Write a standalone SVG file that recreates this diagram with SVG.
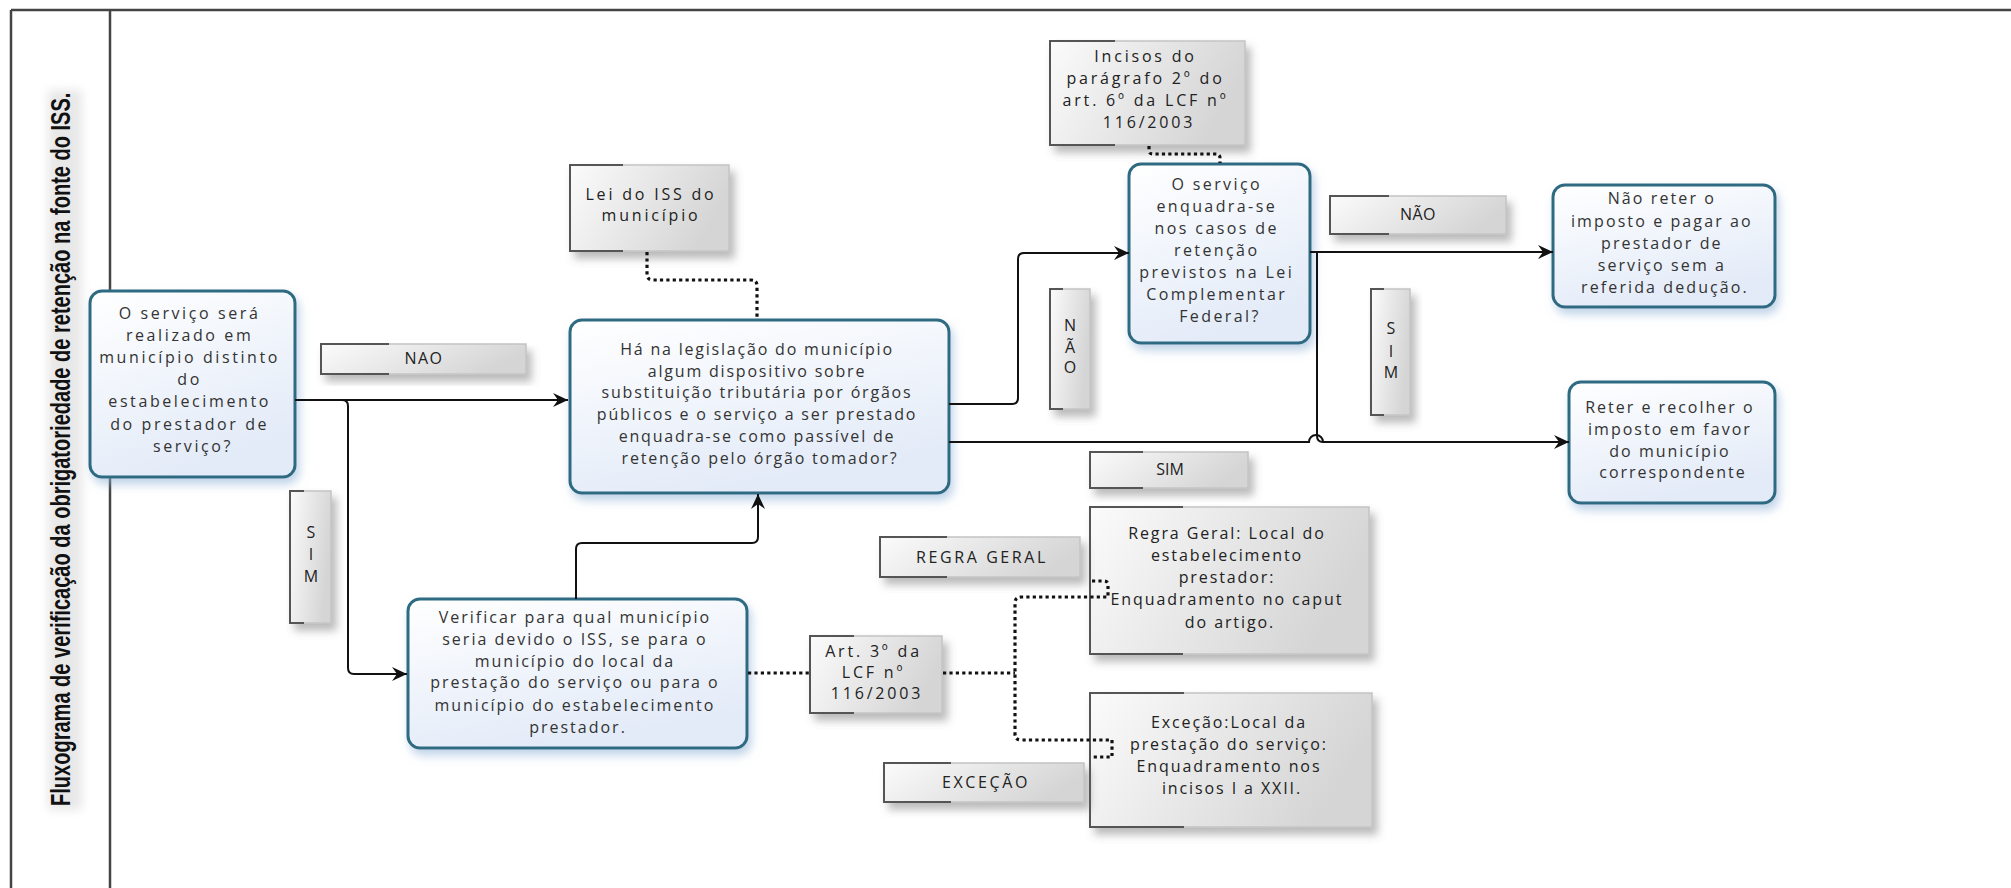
<svg xmlns="http://www.w3.org/2000/svg" width="2011" height="888" viewBox="0 0 2011 888">
<defs>
<linearGradient id="gb" x1="0" y1="0" x2="0.4" y2="1">
<stop offset="0" stop-color="#ffffff"/><stop offset="1" stop-color="#e3ebf8"/>
</linearGradient>
<linearGradient id="gg" x1="0" y1="0" x2="1" y2="0.3">
<stop offset="0" stop-color="#fbfbfb"/><stop offset="1" stop-color="#d5d5d5"/>
</linearGradient>
<filter id="sb" x="-20%" y="-20%" width="140%" height="150%">
<feGaussianBlur in="SourceAlpha" stdDeviation="5"/>
<feOffset dx="3" dy="6" result="b"/>
<feFlood flood-color="#8db0d6" flood-opacity="0.55"/>
<feComposite in2="b" operator="in"/>
<feMerge><feMergeNode/><feMergeNode in="SourceGraphic"/></feMerge>
</filter>
<filter id="sg" x="-20%" y="-20%" width="150%" height="160%">
<feGaussianBlur in="SourceAlpha" stdDeviation="4"/>
<feOffset dx="5" dy="7" result="b"/>
<feFlood flood-color="#666" flood-opacity="0.45"/>
<feComposite in2="b" operator="in"/>
<feMerge><feMergeNode/><feMergeNode in="SourceGraphic"/></feMerge>
</filter>
<filter id="tb" x="-50%" y="-5%" width="200%" height="110%">
<feGaussianBlur stdDeviation="5"/>
</filter>
<marker id="arr" markerUnits="userSpaceOnUse" markerWidth="16" markerHeight="14" refX="15" refY="7" orient="auto" viewBox="0 0 16 14">
<path d="M0,0 L15,7 L0,14 L5,7 Z" fill="#111"/>
</marker>
</defs>
<style>
.frame{stroke:#444;stroke-width:2.5;fill:none}
.node{fill:url(#gb);stroke:#2d6b82;stroke-width:3;filter:url(#sb)}
.box{fill:url(#gg);stroke:#c4c4c4;stroke-width:1.5;filter:url(#sg)}
.edge{stroke:#555;stroke-width:2;fill:none}
.t{font-family:"Open Sans","Noto Sans","Liberation Sans",sans-serif;font-size:16px;fill:#333;text-anchor:middle;letter-spacing:2px}
.g{font-family:"Open Sans","Noto Sans","Liberation Sans",sans-serif;font-size:16px;fill:#222;text-anchor:middle;letter-spacing:2.6px}
.lb{font-family:"Open Sans","Noto Sans","Liberation Sans",sans-serif;font-size:16px;fill:#222;text-anchor:middle;letter-spacing:3.4px}
.c{stroke:#111;stroke-width:2;fill:none}
.d{stroke:#111;stroke-width:3.2;fill:none;stroke-dasharray:3.2 3.2}
.title{font-family:"Liberation Sans",Arial,sans-serif;font-weight:bold;font-size:27px;fill:#111}
</style>
<rect width="2011" height="888" fill="#ffffff"/>
<g id="frame">
<rect x="48" y="90" width="34" height="720" fill="#e8e8e8" filter="url(#tb)"/>
<line class="frame" x1="11" y1="10" x2="2011" y2="10"/>
<line class="frame" x1="11" y1="10" x2="11" y2="888"/>
<line class="frame" x1="110" y1="10" x2="110" y2="888"/>
<text class="title" transform="translate(70,806) rotate(-90) scale(0.742,1)">Fluxograma de verificação da obrigatoriedade de retenção na fonte do ISS.</text>
</g>
<g id="n1">
<rect class="node" x="90" y="291" width="205" height="186" rx="12"/>
<text class="t" style="letter-spacing:2.6px">
<tspan x="193" y="319">O serviço será</tspan>
<tspan x="193" y="341">realizado  em</tspan>
<tspan x="193" y="363">município distinto</tspan>
<tspan x="193" y="385">do</tspan>
<tspan x="193" y="407">estabelecimento</tspan>
<tspan x="193" y="430">do prestador de</tspan>
<tspan x="193" y="452">serviço?</tspan>
</text>
</g>
<g id="n2">
<rect class="node" x="570" y="320" width="379" height="173" rx="12"/>
<text class="t" style="letter-spacing:1.8px">
<tspan x="760" y="355">Há na legislação do município</tspan>
<tspan x="760" y="377">algum dispositivo sobre</tspan>
<tspan x="760" y="398">substituição tributária por órgãos</tspan>
<tspan x="760" y="420">públicos e o serviço a ser prestado</tspan>
<tspan x="760" y="442">enquadra-se como passível de</tspan>
<tspan x="760" y="464">retenção pelo órgão tomador?</tspan>
</text>
</g>
<g id="n3">
<rect class="node" x="1129" y="164" width="181" height="179" rx="12"/>
<text class="t" style="letter-spacing:2.4px">
<tspan x="1220" y="190">O serviço</tspan>
<tspan x="1220" y="212">enquadra-se</tspan>
<tspan x="1220" y="234">nos casos de</tspan>
<tspan x="1220" y="256">retenção</tspan>
<tspan x="1220" y="278">previstos na Lei</tspan>
<tspan x="1220" y="300">Complementar</tspan>
<tspan x="1220" y="322">Federal?</tspan>
</text>
</g>
<g id="n4">
<rect class="node" x="1553" y="185" width="222" height="122" rx="12"/>
<text class="t" style="letter-spacing:2.1px">
<tspan x="1665" y="204">Não reter o</tspan>
<tspan x="1665" y="227">imposto e pagar ao</tspan>
<tspan x="1665" y="249">prestador de</tspan>
<tspan x="1665" y="271">serviço sem a</tspan>
<tspan x="1665" y="293">referida dedução.</tspan>
</text>
</g>
<g id="n5">
<rect class="node" x="1569" y="382" width="206" height="121" rx="12"/>
<text class="t" style="letter-spacing:2px">
<tspan x="1673" y="413">Reter e recolher o</tspan>
<tspan x="1673" y="435">imposto em favor</tspan>
<tspan x="1673" y="457">do município</tspan>
<tspan x="1673" y="478">correspondente</tspan>
</text>
</g>
<g id="n6">
<rect class="node" x="408" y="599" width="339" height="149" rx="12"/>
<text class="t" style="letter-spacing:2px">
<tspan x="578" y="623">Verificar para qual município</tspan>
<tspan x="578" y="645">seria devido o ISS, se para o</tspan>
<tspan x="578" y="667">município  do local da</tspan>
<tspan x="578" y="688">prestação do serviço ou para o</tspan>
<tspan x="578" y="711">município do estabelecimento</tspan>
<tspan x="578" y="733">prestador.</tspan>
</text>
</g>
<g id="lei">
<rect class="box" x="570" y="165" width="159" height="86"/>
<path class="edge" d="M623,165 H570 V251 H623"/>
<text class="g" style="letter-spacing:2.8px"><tspan x="651" y="200">Lei do ISS do</tspan><tspan x="651" y="221">município</tspan></text>
</g>
<g id="incisos">
<rect class="box" x="1050" y="41" width="195" height="104"/>
<path class="edge" d="M1115,41 H1050 V145 H1115"/>
<text class="g" style="letter-spacing:2.8px">
<tspan x="1149" y="62">Incisos do</tspan>
<tspan x="1149" y="84">parágrafo 2º do</tspan>
<tspan x="1149" y="106">art. 6º da LCF nº</tspan>
<tspan x="1149" y="128">116/2003</tspan>
</text>
</g>
<g id="art">
<rect class="box" x="810" y="636" width="132" height="77"/>
<path class="edge" d="M854,636 H810 V713 H854"/>
<text class="g" style="letter-spacing:2.8px">
<tspan x="877" y="657">Art. 3º da</tspan>
<tspan x="877" y="678">LCF nº</tspan>
<tspan x="877" y="699">116/2003</tspan>
</text>
</g>
<g id="regra">
<rect class="box" x="1090" y="507" width="279" height="147"/>
<path class="edge" d="M1183,507 H1090 V654 H1183"/>
<text class="g" style="letter-spacing:1.9px">
<tspan x="1230" y="539">Regra Geral: Local do</tspan>
<tspan x="1230" y="561">estabelecimento</tspan>
<tspan x="1230" y="583">prestador:</tspan>
<tspan x="1230" y="605">Enquadramento no caput</tspan>
<tspan x="1230" y="628">do artigo.</tspan>
</text>
</g>
<g id="excecao">
<rect class="box" x="1090" y="693" width="282" height="134"/>
<path class="edge" d="M1184,693 H1090 V827 H1184"/>
<text class="g" style="letter-spacing:1.9px">
<tspan x="1232" y="728">Exceção:Local da</tspan>
<tspan x="1232" y="750">prestação do serviço:</tspan>
<tspan x="1232" y="772">Enquadramento nos</tspan>
<tspan x="1232" y="794">incisos I  a XXII.</tspan>
</text>
</g>
<g id="lbl-nao">
<rect class="box" x="321" y="344" width="205" height="30"/>
<path class="edge" d="M389,344 H321 V374 H389"/>
<text class="lb" style="letter-spacing:1.5px" x="424" y="364">NAO</text>
</g>
<g id="lbl-sim-left">
<rect class="box" x="290" y="491" width="41" height="132"/>
<path class="edge" d="M304,491 H290 V623 H304"/>
<text class="lb" style="letter-spacing:0"><tspan x="311" y="538">S</tspan><tspan x="311" y="560">I</tspan><tspan x="311" y="582">M</tspan></text>
</g>
<g id="lbl-nao-v">
<rect class="box" x="1050" y="289" width="40" height="120"/>
<path class="edge" d="M1063,289 H1050 V409 H1063"/>
<text class="lb" style="letter-spacing:0"><tspan x="1070" y="331">N</tspan><tspan x="1070" y="353">Ã</tspan><tspan x="1070" y="373">O</tspan></text>
</g>
<g id="lbl-nao-h">
<rect class="box" x="1330" y="196" width="176" height="38"/>
<path class="edge" d="M1389,196 H1330 V234 H1389"/>
<text class="lb" style="letter-spacing:0.5px" x="1418" y="220">NÃO</text>
</g>
<g id="lbl-sim-v">
<rect class="box" x="1371" y="289" width="39" height="126"/>
<path class="edge" d="M1384,289 H1371 V415 H1384"/>
<text class="lb" style="letter-spacing:0"><tspan x="1391" y="334">S</tspan><tspan x="1391" y="357">I</tspan><tspan x="1391" y="378">M</tspan></text>
</g>
<g id="lbl-sim-h">
<rect class="box" x="1090" y="452" width="158" height="36"/>
<path class="edge" d="M1143,452 H1090 V488 H1143"/>
<text class="lb" style="letter-spacing:0" x="1170" y="475">SIM</text>
</g>
<g id="lbl-regra">
<rect class="box" x="880" y="537" width="200" height="40"/>
<path class="edge" d="M947,537 H880 V577 H947"/>
<text class="lb" style="letter-spacing:2.6px" x="982" y="563">REGRA GERAL</text>
</g>
<g id="lbl-excecao">
<rect class="box" x="884" y="763" width="200" height="39"/>
<path class="edge" d="M951,763 H884 V802 H951"/>
<text class="lb" style="letter-spacing:2.6px" x="986" y="788">EXCEÇÃO</text>
</g>
<g id="connectors">
<path class="c" d="M295,400 H568" marker-end="url(#arr)"/>
<path class="c" d="M295,400 H342 Q348,400 348,406 V668 Q348,674 354,674 H407" marker-end="url(#arr)"/>
<path class="c" d="M576,599 V549 Q576,543 582,543 H752 Q758,543 758,537 V494" marker-end="url(#arr)"/>
<path class="c" d="M949,404 H1012 Q1018,404 1018,398 V259 Q1018,253 1024,253 H1129" marker-end="url(#arr)"/>
<path class="c" d="M1310,252 H1553" marker-end="url(#arr)"/>
<path class="c" d="M949,442 H1309 A7,7 0 0 1 1323,442 H1569" marker-end="url(#arr)"/>
<path class="c" d="M1310,252 H1317 V436 Q1317,442 1323,442"/>
<path class="d" d="M647,252 V274 Q647,280 653,280 H751 Q757,280 757,286 V319"/>
<path class="d" d="M1149,146 V150 Q1149,154 1153,154 H1216 Q1220,154 1220,158 V163"/>
<path class="d" d="M748,673 H809"/>
<path class="d" d="M943,673 H1015"/>
<path class="d" d="M1092,581 H1104 Q1108,581 1108,585 V597 H1021 Q1015,597 1015,603 V734 Q1015,740 1021,740 H1112 V757 H1091"/>
</g>
</svg>
